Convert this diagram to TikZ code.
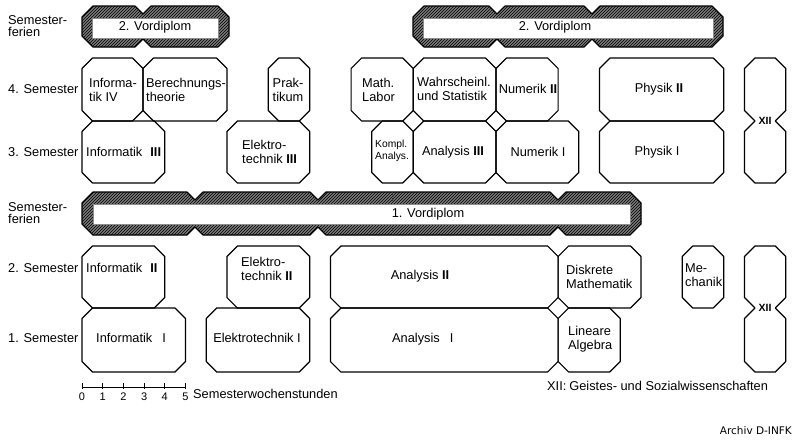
\documentclass[tikz,border=0pt]{standalone}
\usepackage{fontspec}
\setmainfont{Liberation Sans}
\newfontfamily\archfont{DejaVu Sans}
\usetikzlibrary{patterns}
\newcommand\cc{10.5}
\tikzset{
  boxline/.style={line width=1.2pt, line join=round},
  lbl/.style={font=\fontsize{12.8}{13.5}\selectfont, inner sep=0pt, align=left},
  small/.style={font=\fontsize{10.3}{11.5}\selectfont, inner sep=0pt, align=left},
  scalelbl/.style={font=\fontsize{11}{12}\selectfont, inner sep=0pt},
  xiilbl/.style={font=\fontsize{10.5}{12}\selectfont\bfseries, inner sep=0pt},
  inner/.style={fill=white, draw=black!45, line width=0.6pt},
}
\newcommand\octbox[4]{\draw[boxline] ({#1+\cc},{#2}) -- ({#3-\cc},{#2}) -- ({#3},{#2+\cc}) -- ({#3},{#4-\cc}) -- ({#3-\cc},{#4}) -- ({#1+\cc},{#4}) -- ({#1},{#4-\cc}) -- ({#1},{#2+\cc}) -- cycle;}
\newcommand\dblbox[5]{\draw[boxline] ({#1+\cc},{#2}) -- ({#3-\cc},{#2}) -- ({#3},{#2+\cc}) -- ({#3},{#5-\cc}) -- ({#3-\cc},{#5}) -- ({#3},{#5+\cc}) -- ({#3},{#4-\cc}) -- ({#3-\cc},{#4}) -- ({#1+\cc},{#4}) -- ({#1},{#4-\cc}) -- ({#1},{#5+\cc}) -- ({#1+\cc},{#5}) -- ({#1},{#5-\cc}) -- ({#1},{#2+\cc}) -- cycle;}
\newcommand\band[1]{\fill[black!52] #1; \fill[pattern=north east lines, pattern color=black] #1; \draw[boxline] #1;}
\begin{document}
\begin{tikzpicture}[x=1pt,y=-1pt]
\useasboundingbox (0,0) rectangle (800,442);
\fill[white] (0,0) rectangle (800,442);

% ---- bands ----
\band{(82,17) -- (93,6) -- (135,6) -- (143,14) -- (151,6) -- (218,6) -- (229,17) -- (229,36) -- (218,47) -- (151,47) -- (143,39) -- (135,47) -- (93,47) -- (82,36) -- cycle}
\draw[inner] (92,18) rectangle (218,38);
\band{(413,17) -- (424,6) -- (489,6) -- (497,14) -- (505,6) -- (584,6) -- (592,14) -- (600,6) -- (712,6) -- (723,17) -- (723,36) -- (712,47) -- (600,47) -- (592,39) -- (584,47) -- (505,47) -- (497,39) -- (489,47) -- (424,47) -- (413,36) -- cycle}
\draw[inner] (423,18) rectangle (713,38);
\band{(82,203) -- (93,192) -- (187,192) -- (195,200) -- (203,192) -- (310,192) -- (318,200) -- (326,192) -- (550,192) -- (558,200) -- (566,192) -- (630,192) -- (641,203) -- (641,224) -- (630,235) -- (566,235) -- (558,227) -- (550,235) -- (326,235) -- (318,227) -- (310,235) -- (203,235) -- (195,227) -- (187,235) -- (93,235) -- (82,224) -- cycle}
\draw[black!80, line width=0.5pt, dashed] (392,192) -- (392,235);
\draw[inner] (93,204) rectangle (630,224);

% ---- 4./3. Semester ----
\octbox{82}{58}{143}{121}
\octbox{143}{58}{227}{121}
\octbox{268.3}{58}{309.7}{121}
\octbox{351.1}{58}{413.2}{121}
\octbox{413.2}{58}{496}{121}
\octbox{496}{58}{558.1}{121}
\octbox{599.5}{58}{723.7}{121}
\octbox{82}{121}{164.8}{183}
\octbox{226.9}{121}{309.7}{183}
\octbox{371.8}{121}{413.2}{183}
\octbox{413.2}{121}{496}{183}
\octbox{496}{121}{578.8}{183}
\octbox{599.5}{121}{723.7}{183}
\dblbox{744.4}{58}{785.8}{183}{121}

% ---- 2./1. Semester ----
\octbox{82}{246}{164.8}{308}
\octbox{226.9}{246}{309.7}{308}
\octbox{330.4}{246}{558.1}{308}
\octbox{558.1}{246}{640.9}{308}
\octbox{682.3}{246}{723.7}{308}
\octbox{82}{308}{185.5}{372}
\octbox{206.2}{308}{309.7}{372}
\octbox{330.4}{308}{558.1}{372}
\octbox{558.1}{308}{620.2}{372}
\dblbox{744.4}{246}{785.8}{372}{308}

% ---- row labels ----
\node[lbl, anchor=west, font=\fontsize{12.8}{12}\selectfont] (sf2) at (8,26) {Semester-\\ferien};
\node[lbl, anchor=west] (s4) at (8,89) {4. Semester};
\node[lbl, anchor=west] (s3) at (8,152) {3. Semester};
\node[lbl, anchor=west, font=\fontsize{12.8}{12}\selectfont] (sf1) at (8,213) {Semester-\\ferien};
\node[lbl, anchor=west] (s2) at (8,268) {2. Semester};
\node[lbl, anchor=west] (s1) at (8,338) {1. Semester};

% ---- band texts ----
\node[lbl] (vd2a) at (155,27) {2. Vordiplom};
\node[lbl] (vd2b) at (555,27) {2. Vordiplom};
\node[lbl] (vd1) at (428,214) {1. Vordiplom};

% ---- course texts ----
\node[lbl, anchor=west] (tinf4) at (89,90) {Informa-\\tik IV};
\node[lbl, anchor=west] (tbt) at (146,90) {Berechnungs-\\theorie};
\node[lbl, align=center] (tprak) at (288,90) {Prak-\\tikum};
\node[lbl, anchor=west] (tml) at (362,90) {Math.\\Labor};
\node[lbl, anchor=west] (tws) at (417,89) {Wahrscheinl.\\und Statistik};
\node[lbl] (tnum2) at (528,89) {Numerik \textbf{II}};
\node[lbl] (tph2) at (659,89) {Physik \textbf{II}};
\node[xiilbl] (txii1) at (765,121) {XII};

\node[lbl, anchor=west] (tinf3) at (86,152) {Informatik\hspace{8pt}\textbf{III}};
\node[lbl, anchor=west] (tet3) at (242,152) {Elektro-\\technik \textbf{III}};
\node[small, anchor=west] (tka) at (375,151) {Kompl.\\Analys.};
\node[lbl] (tan3) at (453,152) {Analysis \textbf{III}};
\node[lbl] (tnum1) at (538,152) {Numerik I};
\node[lbl] (tph1) at (657,152) {Physik I};

\node[lbl, anchor=west] (tinf2) at (86,268) {Informatik\hspace{8pt}\textbf{II}};
\node[lbl, anchor=west] (tet2) at (241,269) {Elektro-\\technik \textbf{II}};
\node[lbl] (tan2) at (420,276) {Analysis \textbf{II}};
\node[lbl, anchor=west] (tdm) at (566,277) {Diskrete\\Mathematik};
\node[lbl, anchor=west] (tmech) at (685,275) {Me-\\chanik};
\node[xiilbl] (txii2) at (765,308) {XII};

\node[lbl, anchor=west] (tinf1) at (96,338) {Informatik\hspace{10pt}I};
\node[lbl] (tet1) at (257,338) {Elektrotechnik I};
\node[lbl, anchor=west] (tan1) at (392,339) {Analysis\hspace{10pt}I};
\node[lbl, anchor=west] (tla) at (568,339) {Lineare\\Algebra};

% ---- scale bar ----
\draw[line width=1pt] (82,387) -- (185.5,387);
\foreach \k in {0,...,5} {
  \draw[line width=1pt] ({82+20.7*\k},383) -- ({82+20.7*\k},389);
  \node[scalelbl] (sc\k) at ({82+20.7*\k},396.5) {\k};
}
\node[lbl, anchor=west] (sws) at (193,394) {Semesterwochenstunden};

% ---- legend and credit ----
\node[lbl, anchor=west] (leg) at (547,386) {XII:\hspace{3pt}Geistes- und Sozialwissenschaften};
\node[font=\archfont\fontsize{10.5}{12}\selectfont, inner sep=0pt, anchor=east] (arch) at (792,431) {Archiv D-INFK};
\end{tikzpicture}
\end{document}
